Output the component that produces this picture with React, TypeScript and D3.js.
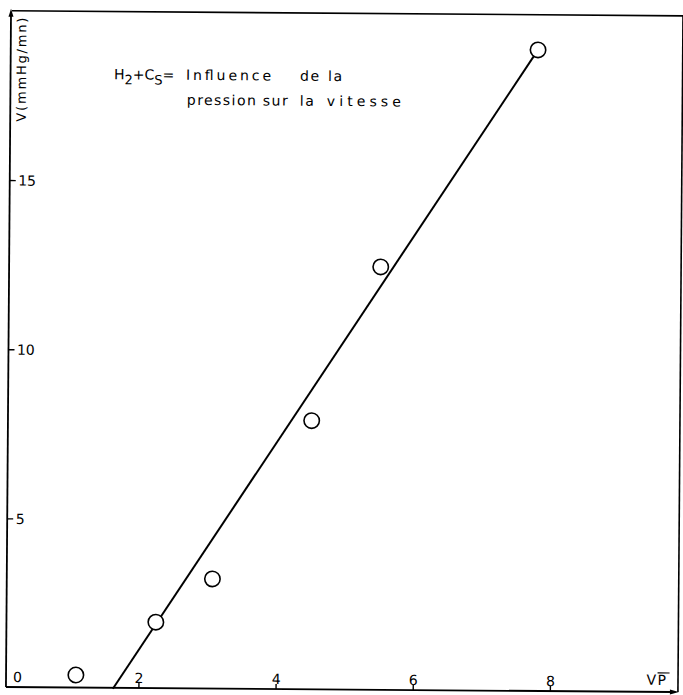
import React from "react";
import * as d3 from "d3";

// sqrt(P) values and speeds V (mmHg/mn)
const sqrtP = [1.08, 2.24, 3.06, 4.49, 5.48, 7.75];
const speed = [0.4, 1.98, 3.27, 7.97, 12.53, 18.98];
// fitted straight line: x-intercept and top point
const fitX = [1.62, 7.75];
const fitY = [0, 18.98];
const xTicks = [2, 4, 6, 8];
const yTicks = [5, 10, 15];
const yLabels = ["5", "10", "15"];

const FONT = "'DejaVu Sans', sans-serif";

export default function App() {
  const x = d3.scaleLinear().domain([0, 8]).range([4.3, 4.3 + 68.58 * 8]);
  const y = d3.scaleLinear().domain([0, 15]).range([690.5, 690.5 - 33.83 * 15]);

  const left = 8.5;
  const top = 13.3;
  const right = 680.5;
  const bottom = 689.5;

  const points = sqrtP.map((v, i) => ({ x: v, y: speed[i] }));
  const fit = fitX.map((v, i) => ({ x: v, y: fitY[i] }));
  const line = d3
    .line<{ x: number; y: number }>()
    .x((d) => x(d.x))
    .y((d) => y(d.y));

  return (
    <svg
      width={683}
      height={695}
      style={{ position: "absolute", left: 0, top: 0, background: "#fff" }}
    >
      <rect x={0} y={0} width={683} height={695} fill="#fff" />
      <g transform="rotate(0.43 341 348)" fontFamily={FONT} fill="#000">
        {/* frame */}
        <line x1={left} y1={bottom} x2={left} y2={top + 4} stroke="#000" strokeWidth={1.8} />
        <path d={`M${left},${top - 2} L${left - 2.5},${top + 6} L${left + 2.5},${top + 6} Z`} fill="#000" />
        <line x1={left + 1} y1={top} x2={683} y2={top} stroke="#000" strokeWidth={1.6} />
        <line x1={right} y1={top} x2={right} y2={bottom} stroke="#000" strokeWidth={1.6} />
        <line x1={left} y1={bottom} x2={right - 6} y2={bottom} stroke="#000" strokeWidth={1.8} />
        <path d={`M${right + 1},${bottom} L${right - 8},${bottom - 2.5} L${right - 8},${bottom + 2.5} Z`} fill="#000" />

        {/* x ticks */}
        {xTicks.map((t) => (
          <g key={"x" + t}>
            <line x1={x(t)} x2={x(t)} y1={bottom} y2={bottom - 5} stroke="#000" strokeWidth={1.4} />
            <text x={x(t)} y={bottom - 5} fontSize={14} textAnchor="middle">
              {t}
            </text>
          </g>
        ))}
        {/* y ticks */}
        {yTicks.map((t, i) => (
          <g key={"y" + t}>
            <line x1={left} x2={left + 6} y1={y(t)} y2={y(t)} stroke="#000" strokeWidth={1.4} />
            <text x={17} y={y(t) + 5} fontSize={14}>
              {yLabels[i]}
            </text>
          </g>
        ))}
        <text x={15.5} y={684.5} fontSize={14}>0</text>

        {/* axis titles */}
        <text
          transform="translate(24 72) rotate(-90)"
          fontSize={13}
          textAnchor="middle"
          textLength={104}
          lengthAdjust="spacing"
        >
          V(mmHg/mn)
        </text>
        <text x={649} y={682.5} fontSize={14}>V</text>
        <text x={660} y={682.5} fontSize={14}>P</text>
        <line x1={660} x2={672} y1={670.5} y2={670.5} stroke="#000" strokeWidth={1.2} />

        {/* title */}
        <text x={112} y={81} fontSize={14}>
          <tspan>H</tspan>
          <tspan dy={5} fontSize={13}>2</tspan>
          <tspan dy={-5}>+C</tspan>
          <tspan dy={5} fontSize={13}>S</tspan>
          <tspan dy={-5}>=</tspan>
        </text>
        <text x={184} y={81} fontSize={14} textLength={85} lengthAdjust="spacing">Influence</text>
        <text x={298} y={81} fontSize={14} letterSpacing={1.5}>de</text>
        <text x={326} y={81} fontSize={14} letterSpacing={1.5}>la</text>
        <text x={185} y={106} fontSize={14} textLength={69} lengthAdjust="spacing">pression</text>
        <text x={261} y={106} fontSize={14} letterSpacing={1.5}>sur</text>
        <text x={298} y={106} fontSize={14} letterSpacing={1.5}>la</text>
        <text x={325} y={106} fontSize={14} textLength={74} lengthAdjust="spacing">vitesse</text>

        {/* fitted line */}
        <path d={line(fit) || ""} fill="none" stroke="#000" strokeWidth={2} />

        {/* points */}
        {points.map((p, i) => (
          <circle key={i} cx={x(p.x)} cy={y(p.y)} r={7.7} fill="#fff" stroke="#000" strokeWidth={1.6} />
        ))}
      </g>
    </svg>
  );
}
